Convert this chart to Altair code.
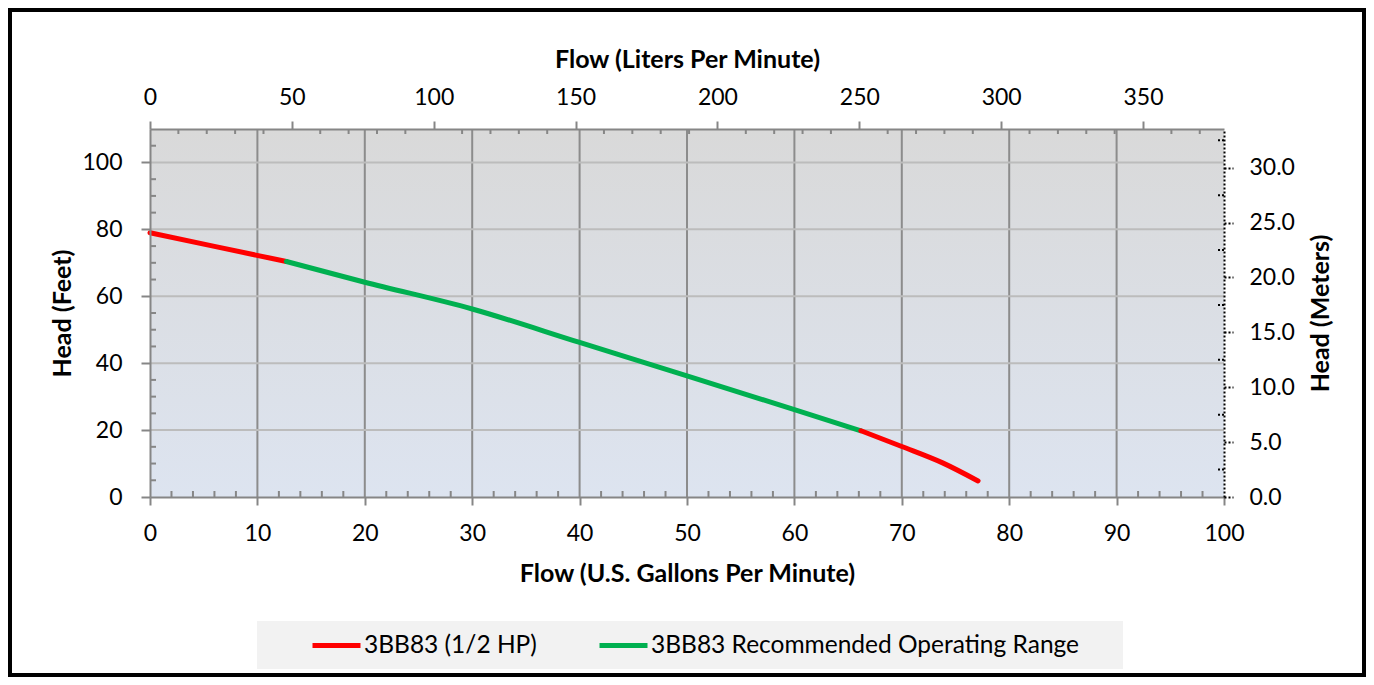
import altair as alt
import pandas as pd

# ---------------- data ----------------
series_red = "3BB83 (1/2 HP)"
series_green = "3BB83 Recommended Operating Range"

red_start_gpm = [0, 6, 12.7]
red_start_ft = [79.0, 74.9, 70.4]
green_gpm = [12.7, 20, 30, 40, 50, 60, 66.2]
green_ft = [70.4, 64.2, 56.2, 46.2, 36.2, 26.1, 19.8]
red_end_gpm = [66.2, 70, 73.8, 77.1]
red_end_ft = [19.8, 15.1, 10.2, 4.8]

gpm_major = [0, 10, 20, 30, 40, 50, 60, 70, 80, 90, 100]
gpm_minor = [v for v in range(0, 101, 2) if v % 10]
gpm_grid = [10, 20, 30, 40, 50, 60, 70, 80, 90]
ft_major = [0, 20, 40, 60, 80, 100]
ft_minor = [v for v in range(5, 110, 5) if v % 20]
ft_grid = [20, 40, 60, 80, 100]
lpm_major = [0, 50, 100, 150, 200, 250, 300, 350]
lpm_minor = [v for v in range(10, 379, 10) if v % 50]
m_major = [0, 5, 10, 15, 20, 25, 30]
m_minor = [2.5, 7.5, 12.5, 17.5, 22.5, 27.5, 32.5]

GPM_MAX = 100
FT_MAX = 110
LPM_MAX = GPM_MAX * 3.78541
M_MAX = FT_MAX * 0.3048

W, H = 1074, 368
FONT = "Lato"
AXIS_GREY = "#868686"
TITLE_SIZE = 25

rows = []
for g, f in zip(red_start_gpm, red_start_ft):
    rows.append({"gpm": g, "ft": f, "seg": "a", "series": series_red})
for g, f in zip(green_gpm, green_ft):
    rows.append({"gpm": g, "ft": f, "seg": "b", "series": series_green})
for g, f in zip(red_end_gpm, red_end_ft):
    rows.append({"gpm": g, "ft": f, "seg": "c", "series": series_red})
curve = pd.DataFrame(rows)

gpm_scale = alt.Scale(domain=[0, GPM_MAX], nice=False, zero=False)
ft_scale = alt.Scale(domain=[0, FT_MAX], nice=False, zero=False)

x_axis = alt.Axis(
    title="Flow (U.S. Gallons Per Minute)", values=gpm_major, grid=False,
    domainColor=AXIS_GREY, domainWidth=2, tickColor=AXIS_GREY, tickWidth=2,
    tickSize=8, labelPadding=17, labelFont=FONT, labelFontSize=23,
    labelColor="black", labelFlush=False, labelOverlap=False,
    titleFont=FONT, titleFontSize=TITLE_SIZE, titleFontWeight="bold", titleColor="black",
    titlePadding=16, zindex=1,
)
y_axis = alt.Axis(
    title="Head (Feet)", values=ft_major, grid=False,
    domainColor=AXIS_GREY, domainWidth=2, tickColor=AXIS_GREY, tickWidth=2,
    tickSize=9, labelPadding=19, labelFont=FONT, labelFontSize=23,
    labelColor="black", labelFlush=False, labelOverlap=False,
    titleFont=FONT, titleFontSize=TITLE_SIZE, titleFontWeight="bold", titleColor="black",
    titlePadding=6, zindex=1,
)


def X(field):
    return alt.X(field, type="quantitative", scale=gpm_scale, axis=x_axis)


def Y(field):
    return alt.Y(field, type="quantitative", scale=ft_scale, axis=y_axis)


bg = alt.Chart(pd.DataFrame({"x0": [0], "x1": [GPM_MAX], "y0": [0], "y1": [FT_MAX]})).mark_rect(
    color=alt.LinearGradient(
        gradient="linear", x1=0, y1=0, x2=0, y2=1,
        stops=[alt.GradientStop(color="#d9d9d9", offset=0),
               alt.GradientStop(color="#dde4f0", offset=1)],
    )
).encode(x=X("x0"), x2="x1", y=Y("y0"), y2="y1")

grid_v = alt.Chart(pd.DataFrame({"v": gpm_grid})).mark_rule(
    color="#8c8c8c", strokeWidth=2).encode(x=X("v"))
grid_h = alt.Chart(pd.DataFrame({"h": ft_grid})).mark_rule(
    color="#bcbcbc", strokeWidth=2).encode(y=Y("h"))

minor_b = alt.Chart(pd.DataFrame({"v": gpm_minor})).mark_rule(
    color=AXIS_GREY, strokeWidth=2).encode(x=X("v"), y=alt.value(H), y2=alt.value(H - 6))
minor_l = alt.Chart(pd.DataFrame({"h": ft_minor})).mark_rule(
    color=AXIS_GREY, strokeWidth=2).encode(y=Y("h"), x=alt.value(0), x2=alt.value(6))

lines = alt.Chart(curve).mark_line(
    strokeWidth=5, interpolate="monotone", strokeCap="round", strokeJoin="round"
).encode(
    x=X("gpm"), y=Y("ft"),
    color=alt.Color(
        "series:N",
        scale=alt.Scale(domain=[series_red, series_green], range=["#ff0000", "#00b050"]),
        legend=alt.Legend(
            orient="none", legendX=160, legendY=490, direction="horizontal",
            title=None, symbolType="stroke", symbolSize=2304, symbolStrokeWidth=5,
            labelFont=FONT, labelFontSize=24.5, labelColor="black", labelLimit=1000,
            columnPadding=52, labelOffset=1, padding=0,
        ),
    ),
    detail="seg:N",
)

main = alt.layer(bg, grid_v, grid_h, minor_b, minor_l, lines)

top_layer = alt.Chart(pd.DataFrame({"v": lpm_minor})).mark_rule(
    color=AXIS_GREY, strokeWidth=2
).encode(
    x=alt.X("v:Q", scale=alt.Scale(domain=[0, LPM_MAX], nice=False, zero=False),
            axis=alt.Axis(
                orient="top", title="Flow (Liters Per Minute)", values=lpm_major, grid=False,
                domainColor=AXIS_GREY, domainWidth=2, tickColor=AXIS_GREY, tickWidth=2,
                tickSize=8, labelPadding=12, labelFont=FONT, labelFontSize=23,
                labelColor="black", labelFlush=False, labelOverlap=False,
                titleFont=FONT, titleFontSize=TITLE_SIZE, titleFontWeight="bold",
                titleColor="black", titlePadding=14, zindex=1)),
    y=alt.value(0), y2=alt.value(5),
)

right_layer = alt.Chart(pd.DataFrame({"v": m_minor})).mark_rule(
    color="black", strokeWidth=2, strokeDash=[2, 2]
).encode(
    y=alt.Y("v:Q", scale=alt.Scale(domain=[0, M_MAX], nice=False, zero=False),
            axis=alt.Axis(
                orient="right", title="Head (Meters)", values=m_major, format=".1f",
                grid=False, domainColor="black", domainWidth=2, domainDash=[2, 2],
                tickColor="black", tickWidth=2, tickDash=[2, 2], tickSize=9,
                labelPadding=16, labelFont=FONT, labelFontSize=23, labelColor="black",
                labelFlush=False, labelOverlap=False,
                titleFont=FONT, titleFontSize=TITLE_SIZE, titleFontWeight="bold",
                titleColor="black", titleAngle=270, titleBaseline="top",
                titlePadding=14, zindex=1)),
    x=alt.value(W - 6), x2=alt.value(W),
)

one = pd.DataFrame({"k": [0]})
legend_box = alt.Chart(one).mark_rect(color="#f2f2f2").encode(
    x=alt.value(107), x2=alt.value(973), y=alt.value(492), y2=alt.value(540))
shadow = alt.Chart(one).mark_rule(color="#b0b0b0", strokeWidth=4, opacity=0.7).encode(
    x=alt.value(-144), y=alt.value(-119), y2=alt.value(548))
frame = alt.Chart(one).mark_rect(
    fillOpacity=0, stroke="black", strokeWidth=4).encode(
    x=alt.value(-140), x2=alt.value(1214), y=alt.value(-119), y2=alt.value(546))

chart = alt.layer(main, top_layer, right_layer, legend_box, shadow, frame).resolve_scale(
    x="independent", y="independent"
).properties(
    width=W, height=H,
    padding={"left": 142, "top": 121, "right": 142, "bottom": 180},
    autosize=alt.AutoSizeParams(type="none"),
    background="white",
).configure_view(strokeWidth=0)

chart.save("out.html", embed_options={"renderer": "svg", "actions": False})
